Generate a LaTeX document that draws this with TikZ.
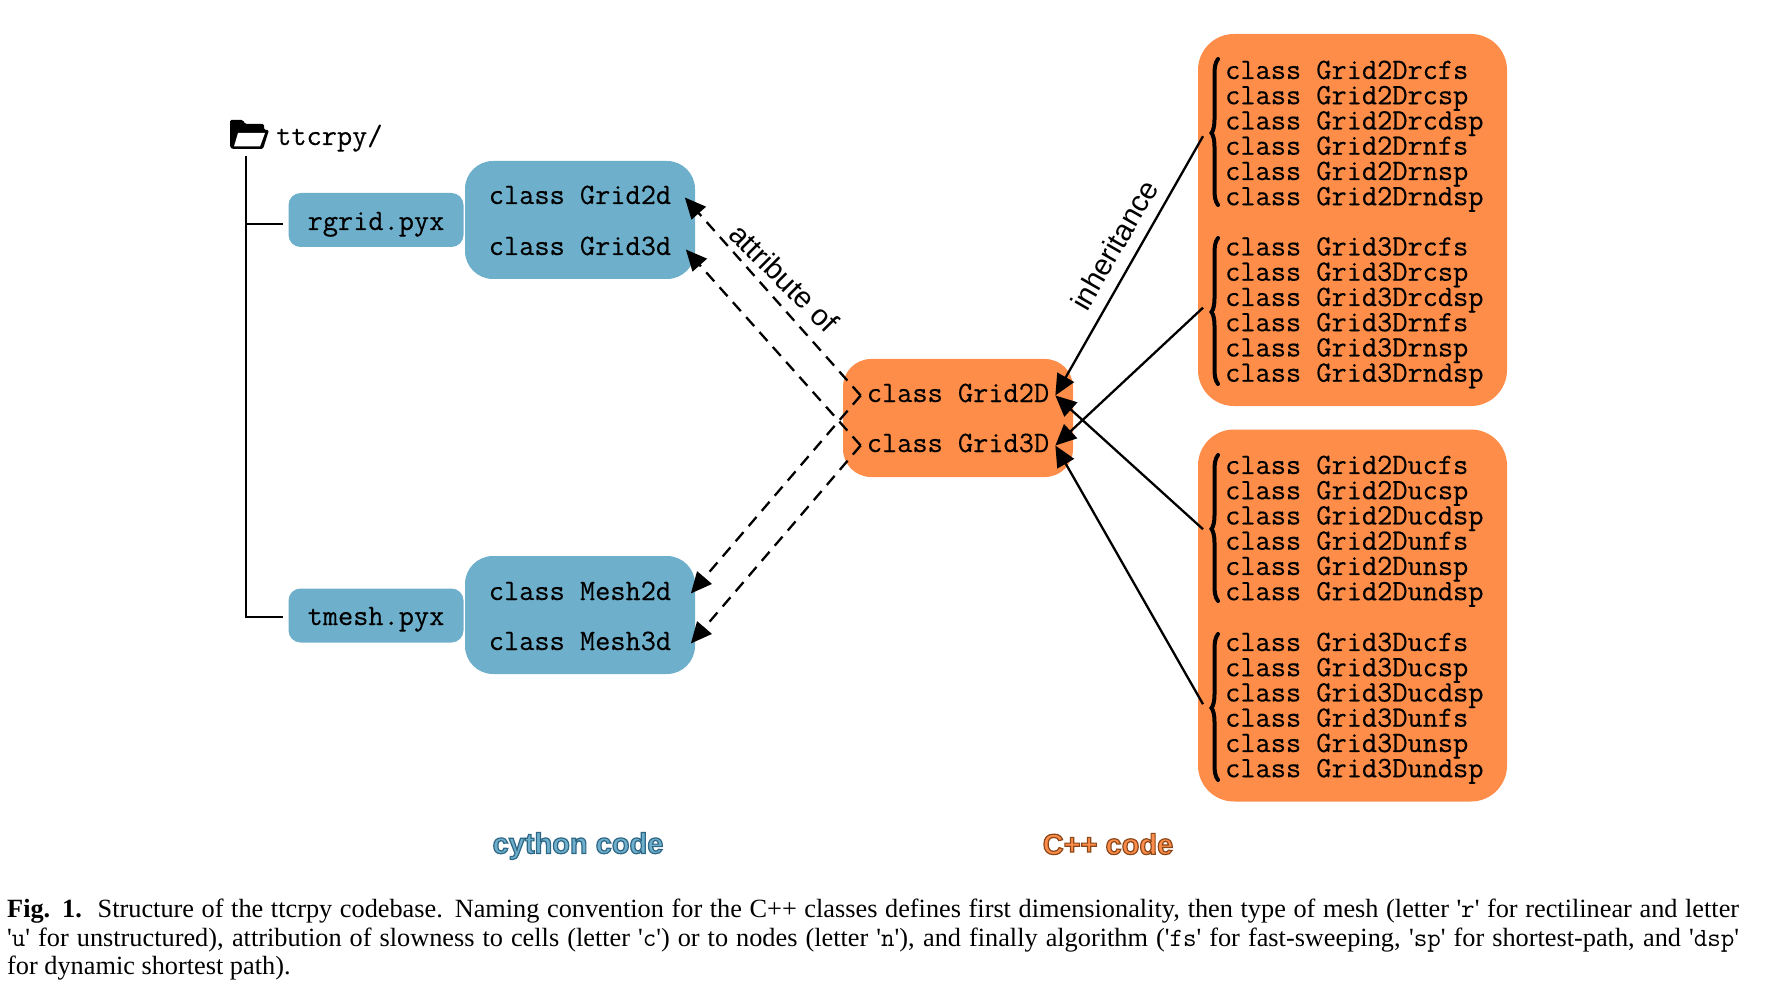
\documentclass[tikz,border=0pt]{standalone}
\usepackage{fontspec}
\usetikzlibrary{arrows.meta}
\setmainfont{Liberation Sans}
\newfontfamily\monof[FakeBold=0.3]{Latin Modern Mono}
\newfontfamily\capf{Liberation Serif}
\newfontfamily\capmono{Latin Modern Mono}
\newfontfamily\outlf{Liberation Sans Bold}
\newfontfamily\capbf{Liberation Serif Bold}
\definecolor{blueb}{HTML}{6EAFCC}
\definecolor{orangeb}{HTML}{FD8D49}
\tikzset{
  x=1pt,y=-1pt,
  bluebox/.style={fill=blueb,rounded corners=#1,inner sep=0pt},
  orangebox/.style={fill=orangeb,rounded corners=#1,inner sep=0pt},
  code/.style={font=\monof\fontsize{29.5}{25.25}\selectfont,inner ysep=0pt,inner xsep=6pt,text height=18pt,text depth=5pt},
  group/.style={font=\monof\fontsize{29.5}{25.25}\selectfont,inner ysep=0pt,inner xsep=22pt,align=left,anchor=west},
  lab/.style={font=\fontsize{29.5}{30}\selectfont,inner sep=0pt},
  dep/.style={line width=2.3pt,dash pattern=on 12pt off 8pt,-{Triangle[length=21pt,width=19pt]}},
  inh/.style={line width=2.3pt,-{Triangle[length=21pt,width=19pt]}},
  tree/.style={line width=2.4pt},
  bracestroke/.style={line width=4pt,line cap=round}
}
\newcommand{\bracep}[1]{%
  \draw[bracestroke] (1218,#1+2) .. controls (1215,#1+6) and (1214.5,#1+10) .. (1214.5,#1+20)
    -- (1214.5,#1+62) .. controls (1214.5,#1+70) and (1213,#1+74) .. (1211.5,#1+76)
    .. controls (1213,#1+78) and (1214.5,#1+82) .. (1214.5,#1+90)
    -- (1214.5,#1+130) .. controls (1214.5,#1+140) and (1215,#1+144) .. (1218,#1+148);}
\begin{document}
\begin{tikzpicture}
\useasboundingbox (0,0) rectangle (1781,992);
% boxes
\node[bluebox=12pt,minimum width=175pt,minimum height=54pt] (rg) at (376,220) {};
\node[bluebox=12pt,minimum width=175pt,minimum height=54pt] (tm) at (376,615.5) {};
\node[bluebox=28pt,minimum width=230pt,minimum height=118pt] (bg) at (580,220) {};
\node[bluebox=28pt,minimum width=230pt,minimum height=118pt] (bm) at (580,615) {};
\node[orangebox=28pt,minimum width=230pt,minimum height=118pt] (oc) at (958,418) {};
\node[orangebox=36pt,minimum width=309pt,minimum height=372pt] (o1) at (1352.5,220) {};
\node[orangebox=36pt,minimum width=309pt,minimum height=372pt] (o2) at (1352.5,615.5) {};
% tree
\coordinate (treetop) at (246,156);
\coordinate (treebot) at (246,617);
\coordinate (treem) at (246,224);
\coordinate (treeA) at (283,224);
\coordinate (treeB) at (283,617);
\draw[tree] (treetop) -- (treebot) -- (treeB);
\draw[tree] (treem) -- (treeA);
% folder
\fill[black,rounded corners=1.5pt] (230,120) -- (243,120) -- (245,124) -- (264,124) -- (264,130) -- (269,130) -- (263,149) -- (232,149) -- (230,147) -- cycle;
\fill[white] (238,133) -- (265,133) -- (260,146.5) -- (234,146.5) -- cycle;
\node[code,anchor=base west,inner xsep=0pt] (root) at (276,145) {ttcrpy/};
% text
\node[code,anchor=base] (rgt) at (376,230) {rgrid.pyx};
\node[code,anchor=base] (tmt) at (376,625) {tmesh.pyx};
\node[code,anchor=base,inner xsep=10.5pt] (g2d) at (580,204) {class Grid2d};
\node[code,anchor=base,inner xsep=10.5pt] (g3d) at (580,255) {class Grid3d};
\node[code,anchor=base,inner xsep=10.5pt] (m2d) at (580,600) {class Mesh2d};
\node[code,anchor=base,inner xsep=10.5pt] (m3d) at (580,650) {class Mesh3d};
\node[code,anchor=base] (g2D) at (958,402) {class Grid2D};
\node[code,anchor=base] (g3D) at (958,452) {class Grid3D};
\node[group] (r1) at (1203,136.2) {class Grid2Drcfs\\class Grid2Drcsp\\class Grid2Drcdsp\\class Grid2Drnfs\\class Grid2Drnsp\\class Grid2Drndsp};
\node[group] (r2) at (1203,312.7) {class Grid3Drcfs\\class Grid3Drcsp\\class Grid3Drcdsp\\class Grid3Drnfs\\class Grid3Drnsp\\class Grid3Drndsp};
\node[group] (r3) at (1203,531.2) {class Grid2Ducfs\\class Grid2Ducsp\\class Grid2Ducdsp\\class Grid2Dunfs\\class Grid2Dunsp\\class Grid2Dundsp};
\node[group] (r4) at (1203,708.2) {class Grid3Ducfs\\class Grid3Ducsp\\class Grid3Ducdsp\\class Grid3Dunfs\\class Grid3Dunsp\\class Grid3Dundsp};
% braces
\bracep{57}\bracep{236}\bracep{453}\bracep{632}
% connectors
\draw[dep] (g2D.west) -- ([xshift=3pt]g2d.east);
\draw[dep] (g3D.west) -- ([xshift=4pt,yshift=-1pt]g3d.east);
\draw[dep] (g2D.west) -- ([xshift=9pt]m2d.east);
\draw[dep] (g3D.west) -- ([xshift=9pt]m3d.east);
\draw[inh] (r1.west) -- (g2D.east);
\draw[inh] ([yshift=5pt]r2.west) -- (g3D.east);
\draw[inh] ([yshift=2pt]r3.west) -- (g2D.east);
\draw[inh] ([yshift=4pt]r4.west) -- (g3D.east);
% labels
\node[lab,rotate=-45] (attr) at (784,278) {attribute of};
\node[lab,rotate=60] (inh) at (1114,245) {inheritance};
\node[inner sep=0pt,font=\outlf\fontsize{29}{30}\selectfont] (cy) at (578,846) {\special{pdf:code 2 Tr 1.2 w 0.18 0.40 0.52 RG 0.43 0.69 0.80 rg}cython code\special{pdf:code 0 Tr 0 G 0 g}};
\node[inner sep=0pt,font=\outlf\fontsize{29}{30}\selectfont] (cp) at (1108,844) {\special{pdf:code 2 Tr 1.2 w 0.55 0.28 0.10 RG 0.99 0.55 0.29 rg}C++ code\special{pdf:code 0 Tr 0 G 0 g}};
% caption
\node[anchor=north west,inner sep=0pt,text width=1732pt,align=justify,font=\capf\fontsize{26.3}{28.5}\selectfont] (cap) at (7,899) {{\capbf Fig. 1.}\hspace{0.6em}Structure of the ttcrpy codebase. Naming convention for the C++ classes defines first dimensionality, then type of mesh (letter '{\capmono r}' for rectilinear and letter\linebreak
'{\capmono u}' for unstructured), attribution of slowness to cells (letter '{\capmono c}') or to nodes (letter '{\capmono n}'), and finally algorithm ('{\capmono fs}' for fast-sweeping, '{\capmono sp}' for shortest-path, and '{\capmono dsp}'\linebreak
for dynamic shortest path).};
\end{tikzpicture}
\end{document}
